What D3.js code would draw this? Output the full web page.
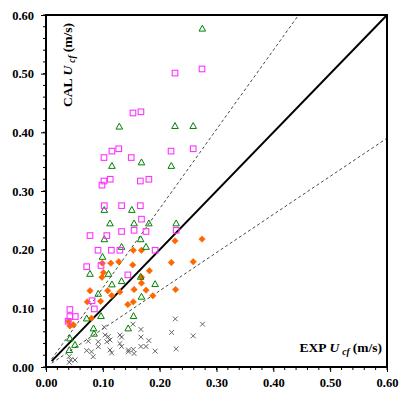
<!DOCTYPE html>
<html><head><meta charset="utf-8">
<script src="https://cdn.jsdelivr.net/npm/d3@7"></script>
<style>
html,body{margin:0;padding:0;background:#fff;}
svg text{font-family:"Liberation Serif","Times New Roman",serif;font-weight:bold;}
</style></head>
<body><svg id="c" width="399" height="394"></svg>
<script>
// Data (EXP, CAL) pairs in m/s
const squaresExp = [0.227,0.2745,0.153,0.167,0.116,0.128,0.102,0.150,0.220,0.259,0.102,0.113,0.0985,0.166,0.181,0.1026,0.133,0.166,0.168,0.0774,0.107,0.133,0.155,0.176,0.229,0.0915,0.115,0.130,0.192,0.0716,0.0968,0.144,0.081,0.085,0.042,0.0516,0.042,0.039];
const squaresCal = [0.501,0.508,0.433,0.435,0.368,0.372,0.357,0.357,0.368,0.372,0.317,0.320,0.310,0.317,0.320,0.275,0.275,0.275,0.252,0.224,0.224,0.231,0.233,0.231,0.233,0.199,0.199,0.199,0.199,0.171,0.173,0.157,0.113,0.099,0.098,0.086,0.086,0.078];
const triExp = [0.275,0.129,0.227,0.259,0.116,0.168,0.2205,0.1026,0.151,0.1126,0.155,0.181,0.229,0.1666,0.1026,0.133,0.176,0.0994,0.0774,0.110,0.133,0.116,0.192,0.1666,0.0919,0.168,0.0716,0.0968,0.0836,0.0845,0.1446,0.154,0.042,0.051,0.041];
const triCal = [0.577,0.410,0.411,0.411,0.343,0.349,0.343,0.268,0.268,0.245,0.245,0.245,0.245,0.218,0.218,0.205,0.205,0.188,0.159,0.159,0.1466,0.141,0.1415,0.154,0.125,0.120,0.083,0.087,0.066,0.057,0.066,0.087,0.049,0.038,0.029];
const diaExp = [0.2745,0.227,0.1536,0.168,0.099,0.114,0.128,0.1526,0.2205,0.259,0.101,0.0985,0.168,0.182,0.168,0.0774,0.1086,0.130,0.155,0.176,0.228,0.1156,0.188,0.0727,0.096,0.144,0.1536,0.080,0.0396,0.042,0.048];
const diaCal = [0.218,0.215,0.199,0.199,0.177,0.177,0.1795,0.174,0.178,0.1795,0.161,0.153,0.153,0.164,0.143,0.130,0.130,0.128,0.132,0.131,0.132,0.122,0.1215,0.111,0.112,0.1065,0.111,0.083,0.078,0.070,0.072];
const crossExp = [0.2275,0.2754,0.221,0.259,0.229,0.153,0.167,0.167,0.181,0.167,0.176,0.192,0.1536,0.145,0.155,0.133,0.133,0.130,0.1126,0.107,0.104,0.1026,0.1096,0.0744,0.092,0.080,0.083,0.092,0.1126,0.1156,0.0716,0.041,0.0435,0.051,0.041,0.130,0.145];
const crossCal = [0.082,0.073,0.059,0.053,0.031,0.073,0.064,0.051,0.045,0.035,0.035,0.027,0.030,0.026,0.023,0.051,0.035,0.0545,0.046,0.043,0.0545,0.068,0.052,0.044,0.043,0.026,0.0176,0.0346,0.029,0.024,0.028,0.018,0.012,0.012,0.008,0.040,0.029];
const tickValues = [0,0.1,0.2,0.3,0.4,0.5,0.6];
const minorTicks = d3.range(0,0.6001,0.02);
const refFactors = [1.0, 1.35, 0.65];
const refStart = 0.01;

const svg = d3.select("#c");
const L=46, R=387, T=15, B=367;
const x = d3.scaleLinear().domain([0,0.6]).range([L,R]);
const y = d3.scaleLinear().domain([0,0.6]).range([B,T]);

svg.append("defs").append("clipPath").attr("id","clip")
  .append("rect").attr("x",L).attr("y",T).attr("width",R-L).attr("height",B-T);

const plot = svg.append("g").attr("clip-path","url(#clip)");

// reference lines
refFactors.forEach(f=>{
  const x2 = Math.min(0.6, 0.6/f);
  plot.append("line")
    .attr("x1",x(refStart)).attr("y1",y(refStart*f))
    .attr("x2",x(x2)).attr("y2",y(x2*f))
    .attr("stroke", f===1 ? "#000" : "#333")
    .attr("stroke-width", f===1 ? 2 : 0.9)
    .attr("stroke-dasharray", f===1 ? null : "3,2.5");
});

// crosses
const cs = 2.4;
plot.selectAll(".cx").data(crossExp.map((v,i)=>[v,crossCal[i]])).enter()
  .append("path").attr("class","cx")
  .attr("d",d=>{const px=x(d[0]),py=y(d[1]);return `M${px-cs},${py-cs}L${px+cs},${py+cs}M${px-cs},${py+cs}L${px+cs},${py-cs}`;})
  .attr("stroke","#555").attr("stroke-width",0.9).attr("fill","none");

// diamonds
const ds = 3.2;
plot.selectAll(".dm").data(diaExp.map((v,i)=>[v,diaCal[i]])).enter()
  .append("path").attr("class","dm")
  .attr("d",d=>{const px=x(d[0]),py=y(d[1]);return `M${px},${py-ds}L${px+ds},${py}L${px},${py+ds}L${px-ds},${py}Z`;})
  .attr("fill","#FF6600").attr("stroke","#FF6600").attr("stroke-width",0.6);

// triangles
plot.selectAll(".tr").data(triExp.map((v,i)=>[v,triCal[i]])).enter()
  .append("path").attr("class","tr")
  .attr("d",d=>{const px=x(d[0]),py=y(d[1]);return `M${px},${py-3.3}L${px+3.3},${py+2.6}L${px-3.3},${py+2.6}Z`;})
  .attr("fill","none").attr("stroke","#008000").attr("stroke-width",1);

// squares
plot.selectAll(".sq").data(squaresExp.map((v,i)=>[v,squaresCal[i]])).enter()
  .append("rect").attr("class","sq")
  .attr("x",d=>x(d[0])-2.8).attr("y",d=>y(d[1])-2.8)
  .attr("width",5.6).attr("height",5.6)
  .attr("fill","none").attr("stroke","#FF33FF").attr("stroke-width",1.1);

// axes
const xAxis = d3.axisBottom(x).tickValues(tickValues).tickFormat(d3.format(".2f")).tickSize(5).tickPadding(6);
const yAxis = d3.axisLeft(y).tickValues(tickValues).tickFormat(d3.format(".2f")).tickSize(5).tickPadding(7);

const gx = svg.append("g").attr("transform",`translate(0,${B})`).call(xAxis);
const gy = svg.append("g").attr("transform",`translate(${L},0)`).call(yAxis);
[gx,gy].forEach(g=>{
  g.select(".domain").remove();
  g.selectAll("line").attr("stroke","#000").attr("stroke-width",1);
  g.selectAll("text").attr("font-size",12.5).attr("fill","#000")
    .style("font-family","'Liberation Serif',serif").style("font-weight","bold");
});
gx.selectAll("text").attr("dy","0.71em");

// minor ticks
svg.append("g").selectAll("line").data(minorTicks).enter().append("line")
  .attr("x1",d=>x(d)).attr("x2",d=>x(d)).attr("y1",B).attr("y2",B+3)
  .attr("stroke","#000").attr("stroke-width",1);
svg.append("g").selectAll("line").data(minorTicks).enter().append("line")
  .attr("y1",d=>y(d)).attr("y2",d=>y(d)).attr("x1",L).attr("x2",L-3)
  .attr("stroke","#000").attr("stroke-width",1);

// frame
svg.append("rect").attr("x",L).attr("y",T).attr("width",R-L).attr("height",B-T)
  .attr("fill","none").attr("stroke","#000").attr("stroke-width",2);

// titles
function title(sel, main){
  sel.append("tspan").text(main);
  sel.append("tspan").attr("font-style","italic").attr("dx",3).text("U");
  sel.append("tspan").attr("font-style","italic").attr("font-size",9.5).attr("dx",3).attr("dy",3).text("cf");
  sel.append("tspan").attr("dy",-3).attr("dx",3).text("(m/s)");
}
const xt = svg.append("text").attr("x",382).attr("y",352).attr("text-anchor","end").attr("font-size",13.5).attr("fill","#000");
title(xt, "EXP");
const yt = svg.append("text").attr("transform","translate(72,107) rotate(-90)").attr("text-anchor","start").attr("font-size",13.5).attr("fill","#000");
title(yt, "CAL");
</script></body></html>
